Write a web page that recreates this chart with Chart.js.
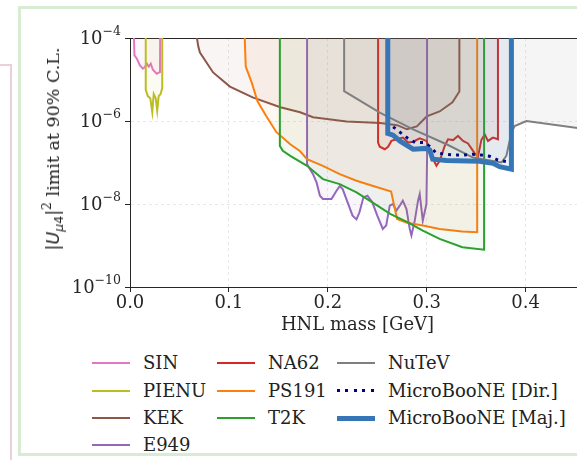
<!DOCTYPE html>
<html>
<head>
<meta charset="utf-8">
<script src="https://cdn.jsdelivr.net/npm/chart.js@4.4.0/dist/chart.umd.min.js"></script>
<style>
html, body { margin: 0; padding: 0; background: #fff; width: 577px; height: 460px; overflow: hidden; position: relative; }
#pink { position: absolute; left: -20px; top: 64px; width: 28px; height: 420px; border: 2px solid #ebcfd9; }
#frame { position: absolute; left: 18px; top: 6px; width: 640px; height: 444px; border: 3px solid #d8ecd3; }
#plot { position: absolute; left: 0; top: 0; }
#ylab { position: absolute; left: 53px; top: 149px; transform: translate(-50%, -50%) rotate(-90deg);
        white-space: nowrap; font: 17.5px "DejaVu Serif"; color: #222; line-height: 20px; }
#ylab .m { font-family: "DejaVu Sans"; }
#ylab sub, #ylab sup { font-size: 12.5px; line-height: 0; }
#ylab sub { vertical-align: -4px; }
#ylab sup { vertical-align: 8px; }
#legend .item { position: absolute; height: 24px; font: 18px "DejaVu Serif"; color: #222; line-height: 24px; white-space: nowrap; }
#legend .swatch { position: absolute; left: 0; width: 38px; }
#legend .txt { position: absolute; }
</style>
</head>
<body>
<div id="pink"></div>
<div id="frame"></div>
<canvas id="plot" width="600" height="340"></canvas>
<div id="ylab"><span class="m">|<i>U</i><sub><i>μ</i>4</sub>|</span><sup>2</sup> limit at 90% C.L.</div>
<div id="legend"></div>
<script>
"use strict";

// HNL mass [GeV] and log10 |U_mu4|^2
const SIN_MASS = [0.004, 0.0045, 0.007, 0.010, 0.013, 0.015, 0.017, 0.019, 0.021, 0.023, 0.0269, 0.0303, 0.0305];
const SIN_LOGU = [-4, -4.42, -4.50, -4.66, -4.74, -4.70, -4.62, -4.69, -4.62, -4.76, -4.86, -4.82, -4];

const PIENU_MASS = [0.0159, 0.0159, 0.018, 0.0205, 0.0225, 0.024, 0.026, 0.0275, 0.029, 0.031, 0.0326, 0.0326];
const PIENU_LOGU = [-4, -5.25, -5.40, -5.45, -5.78, -5.35, -5.45, -5.75, -5.40, -5.35, -5.20, -4];

const KEK_MASS = [0.0677, 0.069, 0.0707, 0.084, 0.101, 0.124, 0.152, 0.172, 0.185, 0.219, 0.253, 0.270, 0.280, 0.290, 0.300, 0.313, 0.326, 0.333, 0.333];
const KEK_LOGU = [-4, -4.2, -4.35, -4.83, -5.17, -5.43, -5.67, -5.79, -5.91, -6.01, -6.05, -6.10, -6.20, -6.13, -5.89, -5.77, -5.55, -5.29, -4];

const E949_MASS = [0.179, 0.179, 0.185, 0.1886, 0.192, 0.195, 0.2037, 0.2088, 0.212, 0.215, 0.220, 0.225, 0.229, 0.232, 0.236, 0.240, 0.245, 0.250, 0.2556,
                   0.259, 0.2626, 0.2657, 0.2694, 0.2727, 0.2758, 0.2795, 0.2828, 0.2845, 0.2879, 0.2912, 0.2929, 0.296, 0.2997, 0.3003, 0.3003];
const E949_LOGU = [-4, -7.04, -7.28, -7.48, -7.80, -7.88, -7.88, -7.68, -7.57, -7.64, -7.96, -8.28, -8.37, -8.20, -7.84, -7.80, -7.96, -8.28, -8.60,
                   -8.52, -8.04, -8.00, -8.16, -8.04, -7.92, -8.12, -8.60, -8.76, -8.40, -7.92, -7.76, -8.40, -8.00, -6.92, -4];

const NA62_MASS = [0.2508, 0.2508, 0.2525, 0.2576, 0.2609, 0.2643, 0.2694, 0.276, 0.2811, 0.2862, 0.2929, 0.2997, 0.303, 0.3064, 0.3098, 0.3131,
                   0.3182, 0.3215, 0.3266, 0.3316, 0.3367, 0.3417, 0.3451, 0.3485, 0.3518, 0.3552, 0.3586, 0.3619, 0.3669, 0.372, 0.372];
const NA62_LOGU = [-4, -6.52, -6.62, -6.68, -6.62, -6.48, -6.44, -6.40, -6.52, -6.50, -6.42, -6.48, -6.68, -6.92, -7.08, -6.96,
                   -6.60, -6.44, -6.46, -6.36, -6.48, -6.54, -6.66, -6.78, -6.86, -6.46, -6.32, -6.48, -6.40, -6.44, -4];

const PS191_MASS = [0.116, 0.117, 0.123, 0.129, 0.138, 0.148, 0.162, 0.172, 0.179, 0.195, 0.212, 0.229, 0.245, 0.264, 0.270, 0.280, 0.296, 0.313, 0.336, 0.351, 0.351];
const PS191_LOGU = [-4, -4.69, -5.07, -5.53, -5.89, -6.27, -6.56, -6.73, -6.92, -7.08, -7.28, -7.44, -7.56, -7.70, -8.36, -8.45, -8.52, -8.60, -8.66, -8.68, -4];

const T2K_MASS = [0.1515, 0.1515, 0.1545, 0.162, 0.179, 0.195, 0.212, 0.229, 0.245, 0.263, 0.280, 0.296, 0.313, 0.336, 0.358, 0.358];
const T2K_LOGU = [-4, -6.60, -6.72, -6.84, -7.08, -7.40, -7.52, -7.72, -7.96, -8.24, -8.43, -8.64, -8.84, -9.04, -9.10, -4];

const NUTEV_MASS = [0.2165, 0.2165, 0.2525, 0.2862, 0.320, 0.3468, 0.3755, 0.3805, 0.3856, 0.3889, 0.4007, 0.46];
const NUTEV_LOGU = [-4, -5.28, -5.80, -6.20, -6.56, -6.88, -7.00, -6.84, -6.28, -6.12, -6.00, -6.19];

const DIR_MASS = [0.266, 0.2734, 0.2805, 0.2882, 0.2973, 0.303, 0.3091, 0.3182, 0.3273, 0.3367, 0.3462, 0.3552, 0.3636, 0.372, 0.3805];
const DIR_LOGU = [-6.14, -6.28, -6.41, -6.52, -6.52, -6.61, -6.76, -6.80, -6.82, -6.82, -6.80, -6.82, -6.85, -6.94, -6.98];

const MAJ_MASS = [0.2606, 0.2606, 0.266, 0.2727, 0.2862, 0.2997, 0.303, 0.306, 0.320, 0.3535, 0.367, 0.3737, 0.3856, 0.3856];
const MAJ_LOGU = [-4, -6.30, -6.34, -6.48, -6.68, -6.66, -6.70, -6.92, -6.95, -6.97, -7.02, -7.10, -7.16, -4];

const LABELS = ["SIN", "PIENU", "KEK", "E949", "NA62", "PS191", "T2K", "NuTeV", "MicroBooNE [Dir.]", "MicroBooNE [Maj.]"];
const SERIES = [[SIN_MASS, SIN_LOGU], [PIENU_MASS, PIENU_LOGU], [KEK_MASS, KEK_LOGU], [E949_MASS, E949_LOGU],
                [NA62_MASS, NA62_LOGU], [PS191_MASS, PS191_LOGU], [T2K_MASS, T2K_LOGU], [NUTEV_MASS, NUTEV_LOGU],
                [DIR_MASS, DIR_LOGU], [MAJ_MASS, MAJ_LOGU]];

const X_TICKS = [0, 0.1, 0.2, 0.3, 0.4];
const Y_TICKS = [1e-4, 1e-6, 1e-8, 1e-10];
const Y_TICK_BASE = "10";
const Y_TICK_EXPONENTS = ["−4", "−6", "−8", "−10"];

// styles
const COLORS = ["#e377c2", "#bcbd22", "#8c564b", "#9467bd", "#d62728", "#ff7f0e", "#2ca02c", "#7f7f7f", "#000080", "#3776b6"];
const WIDTHS = [2, 2, 2, 2, 2, 2, 2, 2, 3, 5];
const FILL_ALPHA = [0.06, 0.06, 0.06, 0.06, 0.06, 0.06, 0.06, 0.08, 0, 0.09];
const LEGEND_COLS = [4, 3, 3];
const LEGEND_LEFT = [92, 217, 337];
const LEGEND_ROW_Y = [363, 390.5, 418, 445];

function rgba(hex, a) {
    const n = parseInt(hex.slice(1), 16);
    return `rgba(${n >> 16},${(n >> 8) & 255},${n & 255},${a})`;
}

const datasets = SERIES.map(([mass, logu], i) => ({
    label: LABELS[i],
    data: mass.map((m, k) => ({ x: m, y: Math.pow(10, logu[k]) })),
    borderColor: COLORS[i],
    borderWidth: WIDTHS[i],
    borderDash: i === 8 ? [3, 5] : [],
    borderCapStyle: "butt",
    borderJoinStyle: "miter",
    backgroundColor: rgba(COLORS[i], FILL_ALPHA[i]),
    fill: FILL_ALPHA[i] > 0 ? "end" : false,
    pointRadius: 0,
    tension: 0,
    order: SERIES.length - 1 - i
}));

const AXIS = "#262626";
const GRID = "rgba(0,0,0,0.09)";

// y tick labels as 10 with a raised exponent, like matplotlib's mathtext
const powerLabels = {
    id: "powerLabels",
    afterDraw(chart) {
        const ctx = chart.ctx, y = chart.scales.y;
        const right = chart.chartArea.left - 9;
        ctx.save();
        ctx.fillStyle = AXIS;
        ctx.textBaseline = "middle";
        Y_TICKS.forEach((v, i) => {
            const py = y.getPixelForValue(v);
            ctx.font = "12.5px 'DejaVu Serif'";
            const we = ctx.measureText(Y_TICK_EXPONENTS[i]).width;
            ctx.textAlign = "left";
            ctx.fillText(Y_TICK_EXPONENTS[i], right - we, py - 6);
            ctx.font = "18px 'DejaVu Serif'";
            ctx.textAlign = "right";
            ctx.fillText(Y_TICK_BASE, right - we, py + 1);
        });
        ctx.restore();
    }
};

Chart.defaults.font.family = "'DejaVu Serif'";
Chart.defaults.color = AXIS;

new Chart(document.getElementById("plot").getContext("2d"), {
    type: "line",
    data: { datasets },
    plugins: [powerLabels],
    options: {
        responsive: false, animation: false,
        layout: { padding: { top: 38, right: 15, left: 0, bottom: 0 } },
        plugins: { legend: { display: false }, tooltip: { enabled: false } },
        scales: {
            x: {
                type: "linear", min: 0, max: 0.46,
                afterBuildTicks: s => { s.ticks = X_TICKS.map(v => ({ value: v })); },
                afterFit: s => { s.height = 53; },
                ticks: { callback: v => v.toFixed(1), font: { size: 18 }, padding: 1, maxRotation: 0, autoSkip: false },
                grid: { color: GRID, tickColor: AXIS, tickLength: 5 },
                border: { color: AXIS, width: 1, dash: [3, 3] },
                title: { display: true, text: "HNL mass [GeV]", font: { size: 18 }, padding: { top: 0, bottom: 4 } }
            },
            xTop: {
                type: "linear", position: "top", min: 0, max: 0.46,
                afterFit: s => { s.height = 0; },
                ticks: { display: false },
                grid: { display: false, drawTicks: false },
                border: { color: AXIS, width: 1 }
            },
            y: {
                type: "logarithmic", min: 1e-10, max: 1e-4,
                afterBuildTicks: s => { s.ticks = Y_TICKS.map(v => ({ value: v, major: true })); },
                afterFit: s => { s.width = 130; },
                ticks: { display: false },
                grid: { color: GRID, tickColor: AXIS, tickLength: 5 },
                border: { color: AXIS, width: 1, dash: [3, 3] }
            }
        }
    }
});

// legend, column-major like the original
const legend = document.getElementById("legend");
let idx = 0;
LEGEND_COLS.forEach((rows, c) => {
    for (let r = 0; r < rows; r++, idx++) {
        const item = document.createElement("div");
        item.className = "item";
        item.style.left = LEGEND_LEFT[c] + "px";
        item.style.top = (LEGEND_ROW_Y[r] - 12) + "px";
        const sw = document.createElement("span");
        sw.className = "swatch";
        const w = WIDTHS[idx];
        sw.style.height = w + "px";
        sw.style.top = (12 - w / 2) + "px";
        sw.style.background = idx === 8
            ? `repeating-linear-gradient(to right, ${COLORS[idx]} 0 3px, transparent 3px 8.5px)`
            : COLORS[idx];
        const t = document.createElement("span");
        t.className = "txt";
        t.style.left = "51px";
        t.textContent = LABELS[idx];
        item.appendChild(sw);
        item.appendChild(t);
        legend.appendChild(item);
    }
});
</script>
</body>
</html>
